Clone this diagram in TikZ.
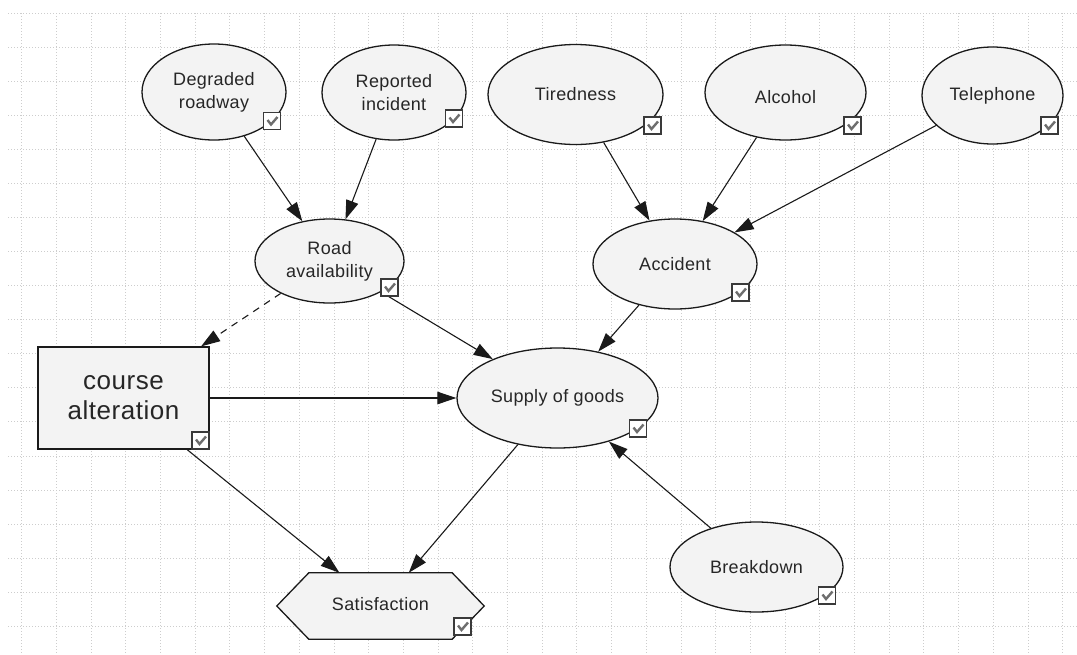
\documentclass[tikz,border=0pt]{standalone}
\usepackage{fontspec}
\setmainfont{Liberation Sans}[LetterSpace=2]
\usetikzlibrary{shapes.geometric,arrows.meta,calc}

\definecolor{nodefill}{HTML}{F3F3F3}
\definecolor{gridc}{HTML}{CDCDCD}
\definecolor{edgec}{HTML}{1A1A1A}
\definecolor{tickc}{HTML}{6E6E6E}
\definecolor{boxc}{HTML}{3A3A3A}
\definecolor{textc}{HTML}{262626}

\tikzset{
  gridline/.style={gridc, line width=0.9pt, dash pattern=on 1pt off 2pt},
  chance/.style={ellipse, draw=edgec, line width=1.3pt, fill=nodefill, inner sep=0pt,
    align=center, text=textc, font=\fontsize{18}{23}\selectfont},
  decision/.style={rectangle, draw=edgec, line width=1.3pt, fill=nodefill, inner sep=0pt,
    align=center, text=textc, font=\fontsize{26}{30}\selectfont},
  utilityframe/.style={rectangle, inner sep=0pt},
  hexline/.style={draw=edgec, line width=1.3pt, fill=nodefill},
  label/.style={text=textc, font=\fontsize{18}{23}\selectfont},
  chk/.style={rectangle, draw=boxc, line width=1.1pt, fill=white, minimum size=17pt, inner sep=0pt,
    path picture={\draw[tickc, line width=2.4pt, line cap=butt, line join=miter]
      ([shift={(4,7.5)}]path picture bounding box.north west) -- ++(3.5,4.5) -- ++(6.5,-7.5);}},
  link/.style={edgec, line width=1.1pt, -{Triangle[length=19pt,width=12.5pt]}},
  weaklink/.style={link, dash pattern=on 7pt off 6pt},
}

\begin{document}
\begin{tikzpicture}[x=1pt, y=-1pt]
  \useasboundingbox (0,0) rectangle (1077,654);
  \fill[white] (0,0) rectangle (1077,654);

  % dotted background grid
  \foreach \k in {0,...,18}
    \draw[gridline] (8,{13.3+34.05*\k}) -- (1077,{13.3+34.05*\k});
  \foreach \k in {0,...,30}
    \draw[gridline] ({21.7+34.7*\k},13) -- ({21.7+34.7*\k},654);

  % chance nodes
  \node[chance, minimum width=144, minimum height=96] (deg) at (214,92)      {Degraded\\roadway};
  \node[chance, minimum width=144, minimum height=95] (rep) at (394,92.5)    {Reported\\incident};
  \node[chance, minimum width=175, minimum height=100] (tir) at (575.5,94.5) {Tiredness};
  \node[chance, minimum width=161, minimum height=95] (alc) at (785.5,92.5)  {\raisebox{-4pt}[\height][0pt]{Alcohol}};
  \node[chance, minimum width=141, minimum height=97] (tel) at (992.5,95.5)  {Telephone};
  \node[chance, minimum width=149, minimum height=84] (road) at (329.5,261)  {Road\\availability};
  \node[chance, minimum width=164, minimum height=90] (acc) at (675,264)     {Accident};
  \node[chance, minimum width=201, minimum height=100] (sup) at (557.5,398)  {Supply of goods};
  \node[chance, minimum width=173, minimum height=90] (brk) at (756.5,567)   {Breakdown};

  % decision node
  \node[decision, minimum width=171, minimum height=102] (crs) at (123.5,398) {course\\alteration};

  % utility node (hexagon)
  \node[utilityframe, minimum width=207, minimum height=66] (sat) at (380.5,606) {};
  \draw[hexline] (sat.west) -- ($(sat.north west)+(32,0)$) -- ($(sat.north east)+(-32,0)$)
    -- (sat.east) -- ($(sat.south east)+(-32,0)$) -- ($(sat.south west)+(32,0)$) -- cycle;
  \node[label] (satlabel) at ($(sat.center)+(0,-2)$) {Satisfaction};

  % links
  \draw[link] (deg) -- (road);
  \draw[link] (rep) -- (road);
  \draw[link] (tir) -- (acc);
  \draw[link] (alc) -- (acc);
  \draw[link] (tel) -- (acc);
  \draw[weaklink] (road) -- (crs);
  \draw[link] (road) -- (sup);
  \draw[link] (acc) -- (sup);
  \draw[link] (crs) -- (sup);
  \draw[link] (sup) -- (sat);
  \draw[link] (crs) -- (sat);
  \draw[link] (brk) -- (sup);

  % check boxes
  \node[chk] (degchk)  at (272,121)    {};
  \node[chk] (repchk)  at (454,118.5)  {};
  \node[chk] (tirchk)  at (652.5,125.5) {};
  \node[chk] (alcchk)  at (852.5,125.5) {};
  \node[chk] (telchk)  at (1049.5,125.5) {};
  \node[chk] (roadchk) at (389.5,287.5) {};
  \node[chk] (accchk)  at (740.5,292.5) {};
  \node[chk] (supchk)  at (638,428.5)  {};
  \node[chk] (brkchk)  at (827,595.5)  {};
  \node[chk] (crschk)  at (200.5,440.5) {};
  \node[chk] (satchk)  at (462.5,626.5) {};
\end{tikzpicture}
\end{document}
